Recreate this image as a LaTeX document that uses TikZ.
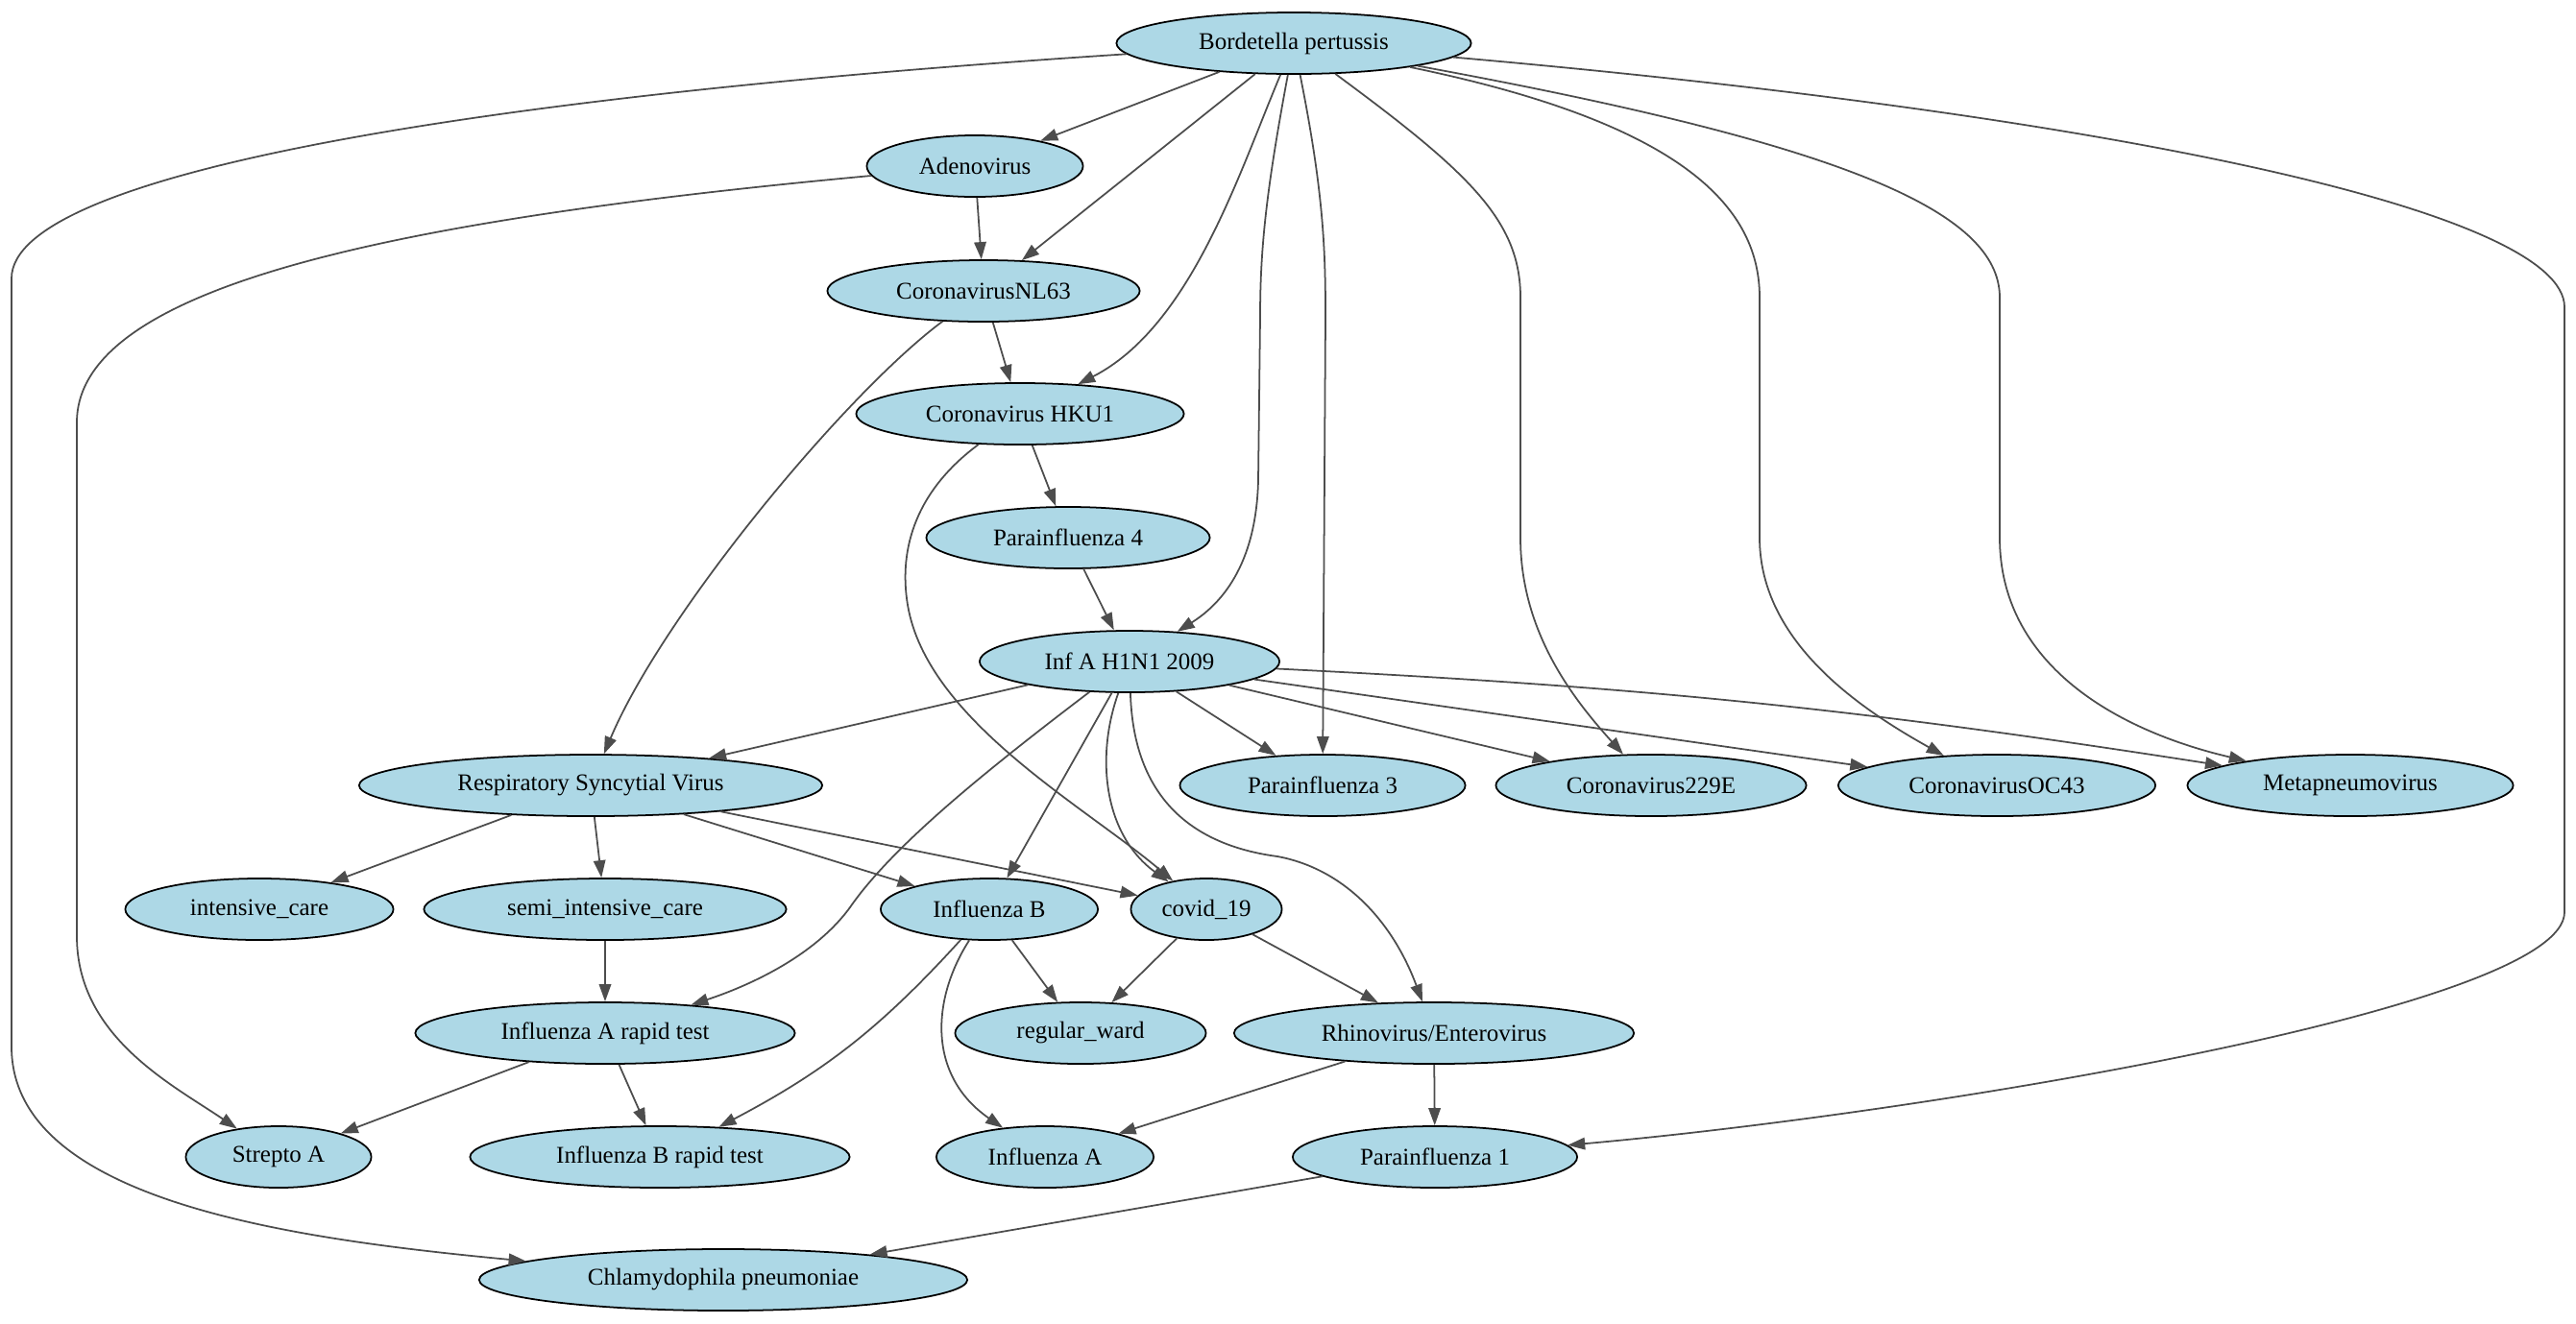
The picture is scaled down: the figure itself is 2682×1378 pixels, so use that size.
\documentclass[tikz,border=0pt]{standalone}
\usepackage{fontspec}
\setmainfont{Liberation Serif}
\usepackage{xcolor}
\usetikzlibrary{shapes.geometric, arrows.meta}
\definecolor{nodeblue}{HTML}{ADD8E6}
\definecolor{linegray}{HTML}{4D4D4D}

\begin{document}
\begin{tikzpicture}[
    x=0.01cm, y=-0.01cm,
    virus/.style={ellipse, draw, fill=nodeblue, minimum height=0.64cm, inner sep=0pt, line width=0.5pt, font=\fontsize{7.1}{8.5}\selectfont},
    arrow/.style={-{Triangle[length=0.18cm, width=0.125cm]}, draw=linegray, line width=0.5pt}
]
\useasboundingbox (0,0) rectangle (2682,1378);

% nodes, rank by rank
\node[virus, minimum width=3.69cm] (bp) at (1347,45) {Bordetella pertussis};
\node[virus, minimum width=2.25cm] (adeno) at (1015,173) {Adenovirus};
\node[virus, minimum width=3.25cm] (nl63) at (1024,303) {CoronavirusNL63};
\node[virus, minimum width=3.41cm] (hku1) at (1062,431) {Coronavirus HKU1};
\node[virus, minimum width=2.95cm] (pi4) at (1112,560) {Parainfluenza 4};
\node[virus, minimum width=3.12cm] (h1n1) at (1176,689) {Inf A H1N1 2009};
\node[virus, minimum width=4.82cm] (rsv) at (615,818) {Respiratory Syncytial Virus};
\node[virus, minimum width=2.97cm] (pi3) at (1377,818) {Parainfluenza 3};
\node[virus, minimum width=3.23cm] (c229) at (1719,818) {Coronavirus229E};
\node[virus, minimum width=3.30cm] (oc43) at (2079,818) {CoronavirusOC43};
\node[virus, minimum width=3.39cm] (meta) at (2447,818) {Metapneumovirus};
\node[virus, minimum width=2.79cm] (icare) at (270,947) {intensive\_care};
\node[virus, minimum width=3.77cm] (sicare) at (630,947) {semi\_intensive\_care};
\node[virus, minimum width=2.26cm] (infb) at (1030,947) {Influenza B};
\node[virus, minimum width=1.57cm] (covid) at (1256,947) {covid\_19};
\node[virus, minimum width=3.95cm] (iart) at (630,1076) {Influenza A rapid test};
\node[virus, minimum width=2.61cm] (ward) at (1125,1076) {regular\_ward};
\node[virus, minimum width=4.16cm] (rhino) at (1493,1076) {Rhinovirus/Enterovirus};
\node[virus, minimum width=1.93cm] (strep) at (290,1205) {Strepto A};
\node[virus, minimum width=3.95cm] (ibrt) at (687,1205) {Influenza B rapid test};
\node[virus, minimum width=2.26cm] (infa) at (1088,1205) {Influenza A};
\node[virus, minimum width=2.96cm] (pi1) at (1494,1205) {Parainfluenza 1};
\node[virus, minimum width=5.08cm] (chla) at (753,1333) {Chlamydophila pneumoniae};

% edges from Bordetella pertussis
\draw[arrow] (bp) -- (adeno);
\draw[arrow] (bp) -- (nl63);
\draw[arrow] (bp) .. controls (1290,180) and (1240,340) .. (hku1);
\draw[arrow] (bp) .. controls (1318,200) and (1312,260) .. (1312,330) -- (1310,500) .. controls (1308,590) and (1270,630) .. (h1n1);
\draw[arrow] (bp) .. controls (1378,200) and (1380,260) .. (1380,330) -- (pi3);
\draw[arrow] (bp) .. controls (1530,180) and (1583,230) .. (1583,310) -- (1583,560) .. controls (1583,660) and (1640,730) .. (c229);
\draw[arrow] (bp) .. controls (1760,130) and (1832,220) .. (1832,310) -- (1832,560) .. controls (1832,670) and (1940,740) .. (oc43);
\draw[arrow] (bp) .. controls (1920,150) and (2082,220) .. (2082,310) -- (2082,560) .. controls (2082,690) and (2200,760) .. (meta);
\draw[arrow] (bp) .. controls (2200,120) and (2670,220) .. (2670,320) -- (2670,950) .. controls (2670,1050) and (2000,1160) .. (pi1);
\draw[arrow] (bp) .. controls (500,100) and (12,180) .. (12,290) -- (12,1090) .. controls (12,1250) and (300,1290) .. (chla);

% upper chain
\draw[arrow] (adeno) -- (nl63);
\draw[arrow] (adeno) .. controls (400,230) and (80,300) .. (80,440) -- (80,975) .. controls (80,1080) and (180,1130) .. (strep);
\draw[arrow] (nl63) -- (hku1);
\draw[arrow] (nl63) .. controls (880,410) and (690,640) .. (rsv);
\draw[arrow] (hku1) -- (pi4);
\draw[arrow] (hku1) .. controls (955,510) and (935,570) .. (945,630) .. controls (965,750) and (1130,840) .. (covid);
\draw[arrow] (pi4) -- (h1n1);

% edges from Inf A H1N1 2009
\draw[arrow] (h1n1) -- (rsv);
\draw[arrow] (h1n1) -- (pi3);
\draw[arrow] (h1n1) -- (c229);
\draw[arrow] (h1n1) -- (oc43);
\draw[arrow] (h1n1) to[bend left=3] (meta);
\draw[arrow] (h1n1) .. controls (1030,800) and (930,880) .. (885,945) .. controls (845,1000) and (770,1030) .. (iart);
\draw[arrow] (h1n1) -- (infb);
\draw[arrow] (h1n1) .. controls (1140,790) and (1150,870) .. (covid);
\draw[arrow] (h1n1) .. controls (1180,830) and (1240,880) .. (1330,892) .. controls (1400,905) and (1450,960) .. (rhino);

% lower part
\draw[arrow] (rsv) -- (icare);
\draw[arrow] (rsv) -- (sicare);
\draw[arrow] (rsv) -- (infb);
\draw[arrow] (rsv) -- (covid);
\draw[arrow] (sicare) -- (iart);
\draw[arrow] (infb) -- (ward);
\draw[arrow] (infb) to[bend left=10] (ibrt);
\draw[arrow] (infb) .. controls (970,1040) and (965,1120) .. (infa);
\draw[arrow] (covid) -- (ward);
\draw[arrow] (covid) -- (rhino);
\draw[arrow] (iart) -- (strep);
\draw[arrow] (iart) -- (ibrt);
\draw[arrow] (rhino) -- (infa);
\draw[arrow] (rhino) -- (pi1);
\draw[arrow] (pi1) -- (chla);

\end{tikzpicture}
\end{document}
